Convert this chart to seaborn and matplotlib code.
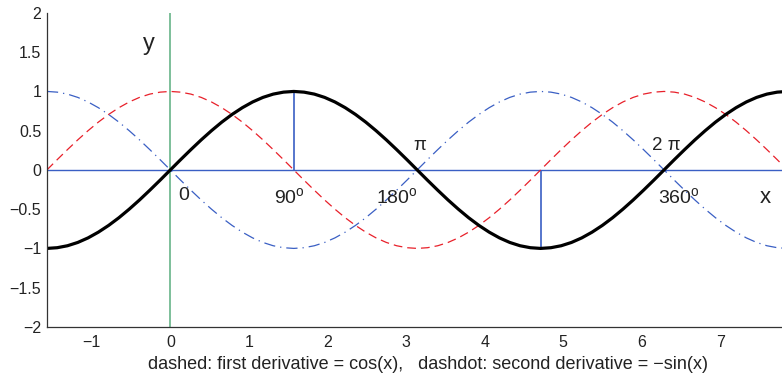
import numpy as np
import matplotlib
matplotlib.use("Agg")
import matplotlib.pyplot as plt
import seaborn as sns

# sample angles in degrees (-90 .. 450)
grados = [-90, -82.5, -75, -67.5, -60, -52.5, -45, -37.5, -30, -22.5, -15, -7.5,
          0, 7.5, 15, 22.5, 30, 37.5, 45, 52.5, 60, 67.5, 75, 82.5,
          90, 97.5, 105, 112.5, 120, 127.5, 135, 142.5, 150, 157.5, 165, 172.5,
          180, 187.5, 195, 202.5, 210, 217.5, 225, 232.5, 240, 247.5, 255, 262.5,
          270, 277.5, 285, 292.5, 300, 307.5, 315, 322.5, 330, 337.5, 345, 352.5,
          360, 367.5, 375, 382.5, 390, 397.5, 405, 412.5, 420, 427.5, 435, 442.5,
          450]

# funcion (linea negra)
seno = [-1, -0.991, -0.966, -0.924, -0.866, -0.793, -0.707, -0.609, -0.5, -0.383, -0.259, -0.131,
        0, 0.131, 0.259, 0.383, 0.5, 0.609, 0.707, 0.793, 0.866, 0.924, 0.966, 0.991,
        1, 0.991, 0.966, 0.924, 0.866, 0.793, 0.707, 0.609, 0.5, 0.383, 0.259, 0.131,
        0, -0.131, -0.259, -0.383, -0.5, -0.609, -0.707, -0.793, -0.866, -0.924, -0.966, -0.991,
        -1, -0.991, -0.966, -0.924, -0.866, -0.793, -0.707, -0.609, -0.5, -0.383, -0.259, -0.131,
        0, 0.131, 0.259, 0.383, 0.5, 0.609, 0.707, 0.793, 0.866, 0.924, 0.966, 0.991,
        1]

# primera derivada (rojo, discontinua)
coseno = [0, 0.131, 0.259, 0.383, 0.5, 0.609, 0.707, 0.793, 0.866, 0.924, 0.966, 0.991,
          1, 0.991, 0.966, 0.924, 0.866, 0.793, 0.707, 0.609, 0.5, 0.383, 0.259, 0.131,
          0, -0.131, -0.259, -0.383, -0.5, -0.609, -0.707, -0.793, -0.866, -0.924, -0.966, -0.991,
          -1, -0.991, -0.966, -0.924, -0.866, -0.793, -0.707, -0.609, -0.5, -0.383, -0.259, -0.131,
          0, 0.131, 0.259, 0.383, 0.5, 0.609, 0.707, 0.793, 0.866, 0.924, 0.966, 0.991,
          1, 0.991, 0.966, 0.924, 0.866, 0.793, 0.707, 0.609, 0.5, 0.383, 0.259, 0.131,
          0]

# segunda derivada (azul, punto-raya)
menos_seno = [1, 0.991, 0.966, 0.924, 0.866, 0.793, 0.707, 0.609, 0.5, 0.383, 0.259, 0.131,
              0, -0.131, -0.259, -0.383, -0.5, -0.609, -0.707, -0.793, -0.866, -0.924, -0.966, -0.991,
              -1, -0.991, -0.966, -0.924, -0.866, -0.793, -0.707, -0.609, -0.5, -0.383, -0.259, -0.131,
              0, 0.131, 0.259, 0.383, 0.5, 0.609, 0.707, 0.793, 0.866, 0.924, 0.966, 0.991,
              1, 0.991, 0.966, 0.924, 0.866, 0.793, 0.707, 0.609, 0.5, 0.383, 0.259, 0.131,
              0, -0.131, -0.259, -0.383, -0.5, -0.609, -0.707, -0.793, -0.866, -0.924, -0.966, -0.991,
              -1]

# extremos marcados con lineas verticales
picos_x = [np.pi / 2, 3 * np.pi / 2]
picos_y = [1, -1]

# etiquetas de texto sobre el eje
etiquetas = ["0", "90$^{\\rm o}$", "180$^{\\rm o}$", "360$^{\\rm o}$"]
etiquetas_x = [0.17, 1.52, 2.88, 6.47]
etiquetas_pi = ["\u03c0", "2 \u03c0"]
etiquetas_pi_x = [3.17, 6.31]

sns.set_style("white")
plt.rcParams["font.family"] = ["Liberation Sans", "DejaVu Sans"]
plt.rcParams["mathtext.fontset"] = "custom"
plt.rcParams["mathtext.rm"] = "Liberation Sans"

fig = plt.figure(figsize=(7.82, 3.81), dpi=100)
ax = fig.add_axes([0.060, 0.142, 0.947, 0.824])

x = np.deg2rad(grados)
azul = "#3a5fc4"

ax.axhline(0, color=azul, lw=1.0, zorder=1)
ax.axvline(0, color="#5aad7e", lw=1.1, zorder=1)
ax.vlines(picos_x, 0, picos_y, color=azul, lw=1.2, zorder=1)

sns.lineplot(x=x, y=coseno, ax=ax, color="#e8202a", lw=0.9, linestyle=(0, (7, 4)))
sns.lineplot(x=x, y=menos_seno, ax=ax, color=azul, lw=0.9, linestyle=(0, (9, 4, 1, 4)))
sns.lineplot(x=x, y=seno, ax=ax, color="black", lw=2.3)

ax.set_xlim(-np.pi / 2, 5 * np.pi / 2)
ax.set_ylim(-2, 2)
ax.set_xticks([-1, 0, 1, 2, 3, 4, 5, 6, 7])
ax.set_yticks([-2, -1.5, -1, -0.5, 0, 0.5, 1, 1.5, 2])
ax.set_yticklabels(["\u22122", "\u22121.5", "\u22121", "\u22120.5", "0", "0.5", "1", "1.5", "2"])
ax.set_xticklabels(["\u22121", "0", "1", "2", "3", "4", "5", "6", "7"])
ax.tick_params(direction="in", length=4, width=0.8, colors="#222222", labelsize=11.5)
ax.tick_params(axis="y", pad=4)
ax.tick_params(axis="x", pad=6)
for lado in ["top", "right"]:
    ax.spines[lado].set_visible(False)
for lado in ["left", "bottom"]:
    ax.spines[lado].set_color("#333333")
    ax.spines[lado].set_linewidth(0.9)

for t, xx in zip(etiquetas, etiquetas_x):
    ax.text(xx, -0.22, t, fontsize=14, ha="center", va="top", color="#222222")
for t, xx in zip(etiquetas_pi, etiquetas_pi_x):
    ax.text(xx, 0.2, t, fontsize=13.5, ha="center", va="bottom", color="#222222")
ax.text(-0.27, 1.6, "y", fontsize=17, ha="center", va="center", color="#222222")
ax.text(7.57, -0.35, "x", fontsize=16, ha="center", va="center", color="#222222")

ax.set_xlabel("dashed: first derivative = cos(x),   dashdot: second derivative = \u2212sin(x)",
              fontsize=13, color="#222222", labelpad=4)
ax.xaxis.label.set_x(0.514)

fig.savefig("out.png", dpi=100)
